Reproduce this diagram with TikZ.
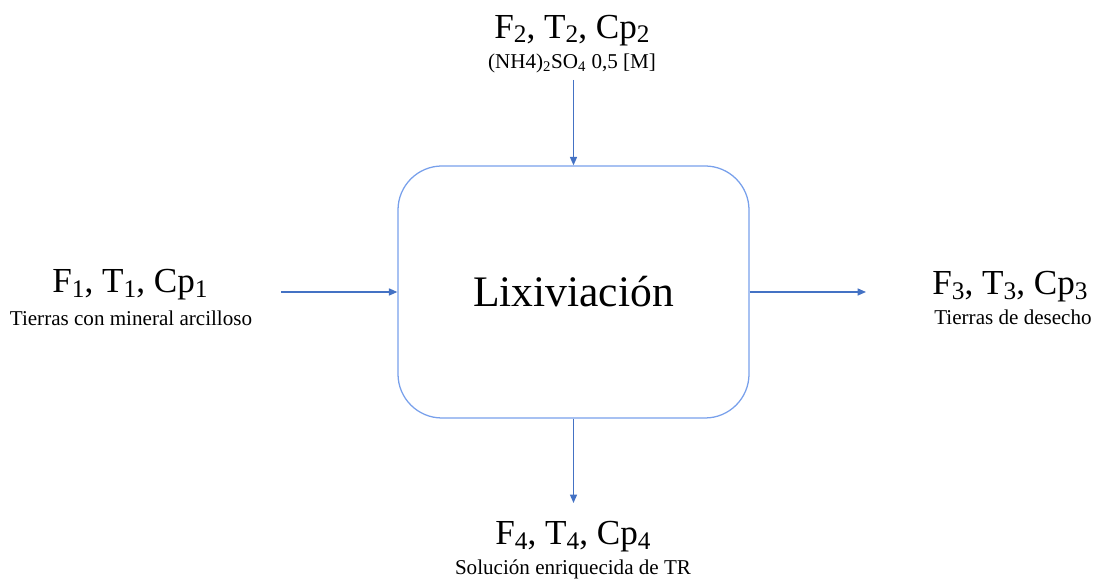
\documentclass[tikz,border=0pt]{standalone}
\usepackage{fontspec}
\setmainfont{Liberation Serif}
\usepackage{tikz}
\usetikzlibrary{arrows.meta}
\usepackage{xcolor}
\definecolor{flecha}{RGB}{68,114,196}
\definecolor{borde}{RGB}{120,160,235}
\newcommand{\bajo}[1]{\raisebox{-0.3ex}{\scalebox{0.72}{#1}}}

\tikzset{
  caja/.style={draw=borde, line width=0.9pt, rounded corners=1.1cm, minimum width=8.775cm, minimum height=6.3cm, font=\fontsize{31}{36}\selectfont},
  corriente/.style={font=\fontsize{25}{28}\selectfont, inner sep=0pt},
  detalle/.style={font=\fontsize{15}{17}\selectfont, inner sep=0pt},
  flujo/.style={draw=flecha, line width=1pt, -{Triangle[length=6pt,width=5pt]}}
}

\begin{document}
\begin{tikzpicture}
\useasboundingbox (0,0) rectangle (27.425,14.475);
\node[caja] (lix) at (14.3375,7.175) {Lixiviación};
% entradas
\node[corriente] (c2) at (14.3,13.72) {F\bajo{2}, T\bajo{2}, Cp\bajo{2}};
\node[detalle] (d2) at (14.3,12.9) {(NH4)\textsubscript{2}SO\textsubscript{4} 0,5 [M]};
\node[corriente] (c1) at (3.25,7.35) {F\bajo{1}, T\bajo{1}, Cp\bajo{1}};
\node[detalle] (d1) at (3.275,6.53) {Tierras con mineral arcilloso};
% salidas
\node[corriente] (c3) at (25.25,7.3) {F\bajo{3}, T\bajo{3}, Cp\bajo{3}};
\node[detalle] (d3) at (25.325,6.55) {Tierras de desecho};
\node[corriente] (c4) at (14.325,1.05) {F\bajo{4}, T\bajo{4}, Cp\bajo{4}};
\node[detalle] (d4) at (14.325,0.23) {Solución enriquecida de TR};
\coordinate (e1) at (7.025,7.175);
\coordinate (e2) at (14.3375,12.475);
\coordinate (s3) at (21.65,7.175);
\coordinate (s4) at (14.3375,1.9);
\draw[flujo] (e1) -- (lix.west);
\draw[flujo] (e2) -- (lix.north);
\draw[flujo] (lix.east) -- (s3);
\draw[flujo] (lix.south) -- (s4);
\end{tikzpicture}
\end{document}
